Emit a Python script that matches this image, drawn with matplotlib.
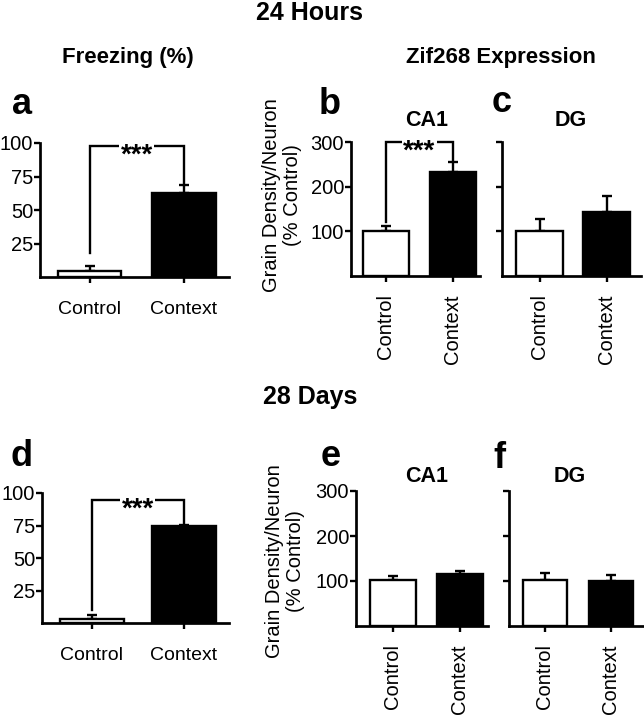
import matplotlib
matplotlib.use("Agg")
import matplotlib.pyplot as plt

plt.rcParams['font.family'] = ['Liberation Sans', 'DejaVu Sans']

# ---------------- data ----------------
groups = ["Control", "Context"]
freeze_24h = [4.5, 63]
freeze_24h_err = [3.5, 6]
ca1_24h = [100, 232]
ca1_24h_err = [12, 24]
dg_24h = [101, 144]
dg_24h_err = [26, 35]
freeze_28d = [3, 74.5]
freeze_28d_err = [3, 1.2]
ca1_28d = [102, 115]
ca1_28d_err = [9, 7]
dg_28d = [102, 99]
dg_28d_err = [16, 15]
freeze_ticks = [25, 50, 75, 100]
zif_ticks = [100, 200, 300]
# significance brackets: (left bottom, top, right bottom)
sig_a = (18, 98, 69)
sig_b = (121, 300, 258)
sig_d = (10, 95, 76)

W, H = 644, 720
fig = plt.figure(figsize=(W / 100, H / 100), dpi=100)

def px(left, top, right, bottom):
    return [left / W, 1 - bottom / H, (right - left) / W, (bottom - top) / H]

LW = 1.7

def panel(rect, vals, errs, ylim, ticks, xlim, width, ticklabels=True, rot=0, fs=14):
    ax = fig.add_axes(px(*rect))
    x = list(range(len(vals)))
    ax.bar(x, vals, width=width, color=['white', 'black'], edgecolor='black',
           linewidth=LW, zorder=2)
    ax.errorbar(x, vals, yerr=[[0] * len(errs), errs], fmt='none', ecolor='black',
                elinewidth=LW, capsize=3.3, capthick=LW, zorder=1)
    ax.set_xlim(*xlim)
    ax.set_ylim(*ylim)
    ax.set_yticks(ticks)
    if not ticklabels:
        ax.set_yticklabels([])
    ax.set_xticks(x)
    ax.set_xticklabels(groups, rotation=rot, fontsize=fs)
    for s in ['top', 'right']:
        ax.spines[s].set_visible(False)
    for s in ['left', 'bottom']:
        ax.spines[s].set_linewidth(LW * 1.15)
    ax.tick_params(axis='y', direction='out', length=4, width=LW, labelsize=14.5, pad=1)
    ax.tick_params(axis='x', direction='out', length=4, width=LW, pad=13 if rot == 0 else 9)
    ax.patch.set_alpha(0)
    return ax

def bracket(ax, sig, fs=20):
    lb, top, rb = sig
    ax.plot([0, 0, 1, 1], [lb, top, top, rb], color='black', lw=LW,
            solid_joinstyle='miter', clip_on=False, zorder=3)
    ax.annotate("***", xy=(0.5, top), xytext=(0, -0.60 * fs), textcoords='offset points',
                ha='center', va='baseline', fontsize=fs, fontweight='bold',
                annotation_clip=False, zorder=4,
                bbox=dict(boxstyle='square,pad=0.05', fc='white', ec='none'))

# ---------- 24 hours ----------
ax_a = panel((40, 143, 229, 277), freeze_24h, freeze_24h_err, (0, 100), freeze_ticks,
             (-0.524, 1.476), 0.67, fs=14)
bracket(ax_a, sig_a)
ax_b = panel((351, 142, 480, 276), ca1_24h, ca1_24h_err, (0, 300), zif_ticks,
             (-0.522, 1.403), 0.70, rot=90, fs=14.5)
bracket(ax_b, sig_b)
ax_c = panel((502, 142, 641, 276), dg_24h, dg_24h_err, (0, 300), zif_ticks,
             (-0.56, 1.515), 0.70, ticklabels=False, rot=90, fs=14.5)

# ---------- 28 days ----------
ax_d = panel((42, 493, 229, 623), freeze_28d, freeze_28d_err, (0, 100), freeze_ticks,
             (-0.543, 1.489), 0.70, fs=14)
bracket(ax_d, sig_d)
ax_e = panel((356, 491, 488, 626), ca1_28d, ca1_28d_err, (0, 300), zif_ticks,
             (-0.552, 1.418), 0.69, rot=90, fs=14.5)
ax_f = panel((509, 491, 644, 626), dg_28d, dg_28d_err, (0, 300), zif_ticks,
             (-0.545, 1.5), 0.68, ticklabels=False, rot=90, fs=14.5)

def ftext(x, y, s, **kw):
    fig.text(x / W, 1 - y / H, s, ha='center', va='center', **kw)

ftext(310, 13, "24 Hours", fontsize=18, fontweight='bold')
ftext(128, 58, "Freezing (%)", fontsize=16, fontweight='bold')
ftext(501, 58, "Zif268 Expression", fontsize=16, fontweight='bold')
ftext(22, 105, "a", fontsize=26, fontweight='bold')
ftext(330, 105, "b", fontsize=26, fontweight='bold')
ftext(502, 103, "c", fontsize=26, fontweight='bold')
ftext(427, 121, "CA1", fontsize=15.5, fontweight='bold')
ftext(571, 121, "DG", fontsize=15.5, fontweight='bold')

ftext(310, 397, "28 Days", fontsize=18, fontweight='bold')
ftext(22, 456, "d", fontsize=26, fontweight='bold')
ftext(331, 456, "e", fontsize=26, fontweight='bold')
ftext(499, 458, "f", fontsize=26, fontweight='bold')
ftext(427, 476, "CA1", fontsize=15.5, fontweight='bold')
ftext(570, 476, "DG", fontsize=15.5, fontweight='bold')

ylab = "Grain Density/Neuron\n(% Control)"
ftext(282, 195, ylab, fontsize=14.5, rotation=90, linespacing=1.1)
ftext(285, 561, ylab, fontsize=14.5, rotation=90, linespacing=1.1)

fig.savefig("out.png", dpi=100)
